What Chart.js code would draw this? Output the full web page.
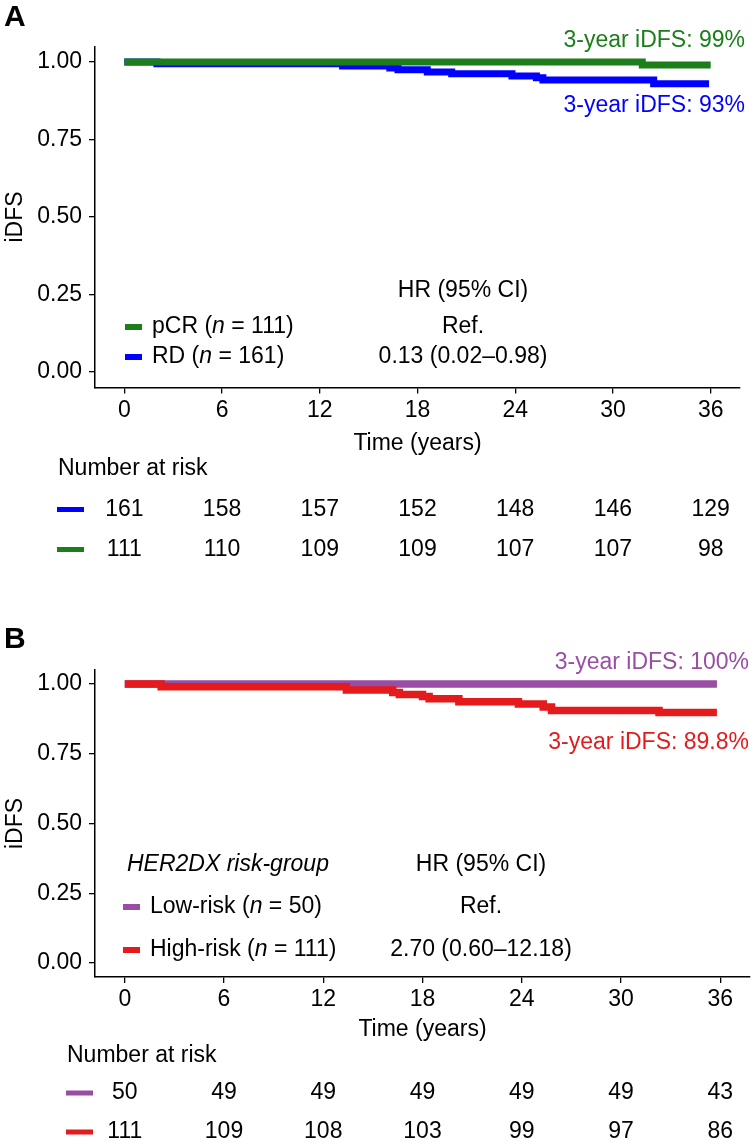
<!DOCTYPE html>
<html>
<head>
<meta charset="utf-8">
<script src="https://cdn.jsdelivr.net/npm/chart.js@4"></script>
<style>
  body { margin: 0; background: #fff; }
  .panel { position: absolute; left: 0; width: 755px; }
  #wrapA { top: 0; height: 575px; }
  #wrapB { top: 575px; height: 570px; }
</style>
</head>
<body>
<div class="panel" id="wrapA"><canvas id="chartA" width="755" height="575"></canvas></div>
<div class="panel" id="wrapB"><canvas id="chartB" width="755" height="570"></canvas></div>
<script>
// axis ticks (months / survival)
const timeTicks = [0, 6, 12, 18, 24, 30, 36];
const survTicks = [0, 0.25, 0.5, 0.75, 1];

// panel A: pCR vs RD
const pcrTimes = [0, 31.8, 36];
const pcrSurv  = [1, 0.99, 0.99];
const rdTimes  = [0, 2.0, 13.4, 16.3, 16.8, 18.6, 20.1, 23.8, 25.3, 25.7, 32.5, 35.9];
const rdSurv   = [1, 0.994, 0.987, 0.981, 0.975, 0.968, 0.962, 0.955, 0.949, 0.942, 0.930, 0.930];
const riskRD   = [161, 158, 157, 152, 148, 146, 129];
const riskPCR  = [111, 110, 109, 109, 107, 107, 98];

// panel B: HER2DX low vs high risk
const lowTimes  = [0, 35.8];
const lowSurv   = [1, 1];
const highTimes = [0, 2.2, 13.4, 16.2, 16.6, 18.0, 18.4, 20.2, 23.8, 25.3, 25.8, 32.3, 35.8];
const highSurv  = [1, 0.990, 0.978, 0.969, 0.962, 0.955, 0.947, 0.936, 0.928, 0.917, 0.905, 0.898, 0.898];
const riskLow   = [50, 49, 49, 49, 49, 49, 43];
const riskHigh  = [111, 109, 108, 103, 99, 97, 86];

const GREEN = '#1b7e1b', BLUE = '#0000ff', PURPLE = '#984ea3', RED = '#e41a1c';
const FAM = '"Liberation Sans", Arial, Helvetica, sans-serif';
const FONT = '23px ' + FAM;

function pts(xs, ys) {
  return xs.map((x, i) => ({ x: x, y: ys[i] }));
}

// draws a line of text made of plain / italic pieces
function drawRuns(ctx, runs, x, y, align) {
  let total = 0;
  runs.forEach(r => {
    ctx.font = (r[1] ? 'italic ' : '') + FONT;
    total += ctx.measureText(r[0]).width;
  });
  let cx = align === 'center' ? x - total / 2 : x;
  ctx.textAlign = 'left';
  runs.forEach(r => {
    ctx.font = (r[1] ? 'italic ' : '') + FONT;
    ctx.fillText(r[0], cx, y);
    cx += ctx.measureText(r[0]).width;
  });
}

// text overlay: panel letter, titles, legend table, risk table
function overlay(p) {
  return {
    id: 'overlay' + p.letter,
    afterDraw(chart) {
      const ctx = chart.ctx, a = chart.chartArea;
      const xs = chart.scales.x, ys = chart.scales.y;
      ctx.save();
      ctx.fillStyle = '#000';
      ctx.textBaseline = 'middle';

      ctx.font = 'bold 30px ' + FAM;
      ctx.textAlign = 'left';
      ctx.fillText(p.letter, 4, p.letterY);

      ctx.font = FONT;
      ctx.save();
      ctx.translate(16, (a.top + a.bottom) / 2);
      ctx.rotate(-Math.PI / 2);
      ctx.textAlign = 'center';
      ctx.fillText('iDFS', 0, 0);
      ctx.restore();

      ctx.textAlign = 'center';
      ctx.fillText('Time (years)', (a.left + a.right) / 2, a.bottom + p.titleGap);

      // 3-year annotations
      ctx.textAlign = 'right';
      p.notes.forEach(n => {
        ctx.fillStyle = n.color;
        ctx.fillText(n.text, p.noteRight, ys.getPixelForValue(n.at) + n.dy);
      });

      // legend + HR column
      ctx.fillStyle = '#000';
      if (p.groupTitle) {
        drawRuns(ctx, [[p.groupTitle, true]], p.legX, p.hrY, 'left');
      }
      drawRuns(ctx, [['HR (95% CI)', false]], p.hrX, p.hrY, 'center');
      p.legend.forEach(l => {
        ctx.fillStyle = l.color;
        ctx.fillRect(p.swX, l.y - 3, 17, 6);
        ctx.fillStyle = '#000';
        drawRuns(ctx, l.runs, p.swX + 27, l.y, 'left');
        drawRuns(ctx, [[l.hr, false]], p.hrX, l.y, 'center');
      });

      // number at risk
      ctx.font = FONT;
      ctx.textAlign = 'left';
      ctx.fillText('Number at risk', p.narX, a.bottom + p.narGap);
      p.rows.forEach(r => {
        const y = a.bottom + r.gap;
        ctx.fillStyle = r.color;
        ctx.fillRect(p.narX - 1, y - 2.5, 27, 5);
        ctx.fillStyle = '#000';
        ctx.textAlign = 'center';
        timeTicks.forEach((t, i) => {
          ctx.fillText(String(r.values[i]), xs.getPixelForValue(t), y);
        });
      });
      ctx.restore();
    }
  };
}

function makeChart(id, p) {
  const H = p.height;
  return new Chart(document.getElementById(id), {
    type: 'line',
    data: {
      datasets: p.series.map(s => ({
        data: pts(s.x, s.y),
        borderColor: s.color,
        backgroundColor: s.color,
        borderWidth: p.lineWidth,
        stepped: 'before',
        pointRadius: 0,
        fill: false,
        borderCapStyle: 'butt'
      }))
    },
    options: {
      responsive: false,
      animation: false,
      devicePixelRatio: 1,
      layout: { padding: { top: p.top, right: 755 - p.right, left: 0, bottom: 0 } },
      plugins: { legend: { display: false }, tooltip: { enabled: false } },
      scales: {
        x: {
          type: 'linear',
          min: -1.8,
          max: 37.8,
          afterBuildTicks: s => { s.ticks = timeTicks.map(v => ({ value: v })); },
          afterFit: s => { s.height = H - p.bottom; },
          grid: { drawOnChartArea: false, drawTicks: true, tickLength: 6, color: '#000', lineWidth: 1.3 },
          border: { display: true, color: '#000', width: 1.5 },
          ticks: { color: '#000', font: { family: FAM, size: 23 }, padding: 3, maxRotation: 0, autoSkip: false }
        },
        y: {
          type: 'linear',
          min: -0.05,
          max: 1.05,
          afterBuildTicks: s => { s.ticks = survTicks.map(v => ({ value: v })); },
          afterFit: s => { s.width = p.left; },
          grid: { drawOnChartArea: false, drawTicks: true, tickLength: 6, color: '#000', lineWidth: 1.3 },
          border: { display: true, color: '#000', width: 1.5 },
          ticks: { color: '#000', font: { family: FAM, size: 23 }, padding: 7, callback: v => v.toFixed(2) }
        }
      }
    },
    plugins: [overlay(p)]
  });
}

makeChart('chartA', {
  letter: 'A', letterY: 18, height: 575,
  left: 95, right: 740, top: 46.5, bottom: 387.5,
  lineWidth: 7,
  series: [
    { x: pcrTimes, y: pcrSurv, color: GREEN },
    { x: rdTimes, y: rdSurv, color: BLUE }
  ],
  titleGap: 56,
  noteRight: 745,
  notes: [
    { text: '3-year iDFS: 99%', color: GREEN, at: 1, dy: -21 },
    { text: '3-year iDFS: 93%', color: BLUE, at: 0.93, dy: 22 }
  ],
  legX: 125, hrX: 463, hrY: 291, swX: 125,
  legend: [
    { color: GREEN, y: 327, runs: [['pCR (', false], ['n', true], [' = 111)', false]], hr: 'Ref.' },
    { color: BLUE, y: 357, runs: [['RD (', false], ['n', true], [' = 161)', false]], hr: '0.13 (0.02\u20130.98)' }
  ],
  narX: 58, narGap: 81,
  rows: [
    { color: BLUE, gap: 122, values: riskRD },
    { color: GREEN, gap: 162, values: riskPCR }
  ]
});

makeChart('chartB', {
  letter: 'B', letterY: 65, height: 570,
  left: 95, right: 750, top: 95, bottom: 402,
  lineWidth: 7.5,
  series: [
    { x: highTimes, y: highSurv, color: RED },
    { x: lowTimes, y: lowSurv, color: PURPLE }
  ],
  titleGap: 53,
  noteRight: 749,
  notes: [
    { text: '3-year iDFS: 100%', color: PURPLE, at: 1, dy: -21 },
    { text: '3-year iDFS: 89.8%', color: RED, at: 0.898, dy: 30 }
  ],
  groupTitle: 'HER2DX risk-group',
  legX: 127, hrX: 481, hrY: 290, swX: 123,
  legend: [
    { color: PURPLE, y: 332, runs: [['Low-risk (', false], ['n', true], [' = 50)', false]], hr: 'Ref.' },
    { color: RED, y: 375, runs: [['High-risk (', false], ['n', true], [' = 111)', false]], hr: '2.70 (0.60\u201312.18)' }
  ],
  narX: 67, narGap: 79,
  rows: [
    { color: PURPLE, gap: 116, values: riskLow },
    { color: RED, gap: 155, values: riskHigh }
  ]
});
</script>
</body>
</html>
